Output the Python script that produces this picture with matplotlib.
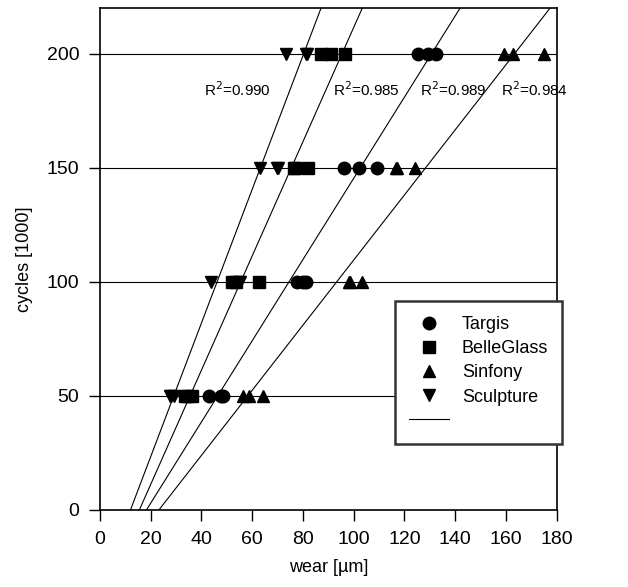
import matplotlib
matplotlib.use("Agg")
import matplotlib.pyplot as plt
from matplotlib.lines import Line2D
import numpy as np

plt.rcParams['font.family'] = ['Liberation Sans', 'DejaVu Sans']

cycles = [50, 100, 150, 200]

targis = [[42.8, 47.6, 48.4], [77.7, 80.0, 81.0], [96.3, 101.9, 109.1], [125.4, 129.3, 132.6]]
belleglass = [[33.6, 34.8, 36.2], [52.2, 53.5, 62.7], [76.4, 77.0, 82.0], [87.3, 91.2, 96.7]]
sinfony = [[56.5, 58.7, 64.4], [98.0, 98.5, 103.2], [116.7, 117.0, 124.3], [159.4, 162.7, 175.1]]
sculpture = [[27.4, 28.0, 29.3], [43.7, 54.8, 55.0], [63.1, 69.6, 70.0], [73.5, 81.0, 81.5]]

series_names = ["Targis", "BelleGlass", "Sinfony", "Sculpture"]
series_markers = ["o", "s", "^", "v"]

# regression lines: wear at 0 cycles, wear at 200k cycles
line_wear0 = [12.0, 15.5, 18.3, 23.2]
line_wear200 = [80.3, 95.4, 130.7, 163.4]

r2_labels = ["R$^2$=0.990", "R$^2$=0.985", "R$^2$=0.989", "R$^2$=0.984"]
r2_x = [41.0, 92.0, 126.0, 158.2]
r2_y = 184

fig = plt.figure(figsize=(6.28, 5.87), dpi=100)
ax = fig.add_axes([100/628, 1-510/587, 456.7/628, 502/587])

ax.set_xlim(0, 180)
ax.set_ylim(0, 220)

for yv in cycles:
    ax.axhline(yv, color='black', lw=0.8, zorder=1)

# regression lines
yy = np.array([0, 220])
for w0, w200 in zip(line_wear0, line_wear200):
    slope = (w200 - w0) / 200.0
    ax.plot(w0 + slope * yy, yy, color='black', lw=0.8, zorder=2)

handles = []
for name, mk, data in zip(series_names, series_markers,
                          [targis, belleglass, sinfony, sculpture]):
    xs = []
    ys = []
    for cy, vals in zip(cycles, data):
        xs.extend(vals)
        ys.extend([cy] * len(vals))
    ax.plot(xs, ys, linestyle='none', marker=mk, color='black', ms=9, zorder=3)
    handles.append(Line2D([], [], linestyle='none', marker=mk, color='black', ms=9, label=name))
handles.append(Line2D([], [], color='black', lw=0.8, label=' '))

for t, x in zip(r2_labels, r2_x):
    ax.text(x, r2_y, t, fontsize=11, ha='left', va='center')

ax.set_xticks(np.arange(0, 181, 20))
ax.set_yticks([0, 50, 100, 150, 200])
ax.tick_params(direction='out', length=8, width=1, labelsize=14, pad=7)
for s in ax.spines.values():
    s.set_linewidth(1.2)

ax.set_xlabel("wear [µm]", fontsize=13, labelpad=8)
ax.set_ylabel("cycles [1000]", fontsize=13, labelpad=10)

leg = ax.legend(handles=handles, loc='lower left', bbox_to_anchor=(0.646, 0.131, 0.366, 0.29),
                mode='expand', fontsize=13, frameon=True, fancybox=False,
                handlelength=2.2, labelspacing=0.4, borderpad=0.8, handletextpad=0.7,
                borderaxespad=0)
leg.get_frame().set_edgecolor('#333333')
leg.get_frame().set_linewidth(1.8)
leg.get_frame().set_alpha(1)
leg.set_clip_on(False)

fig.savefig("out.png", dpi=100)
